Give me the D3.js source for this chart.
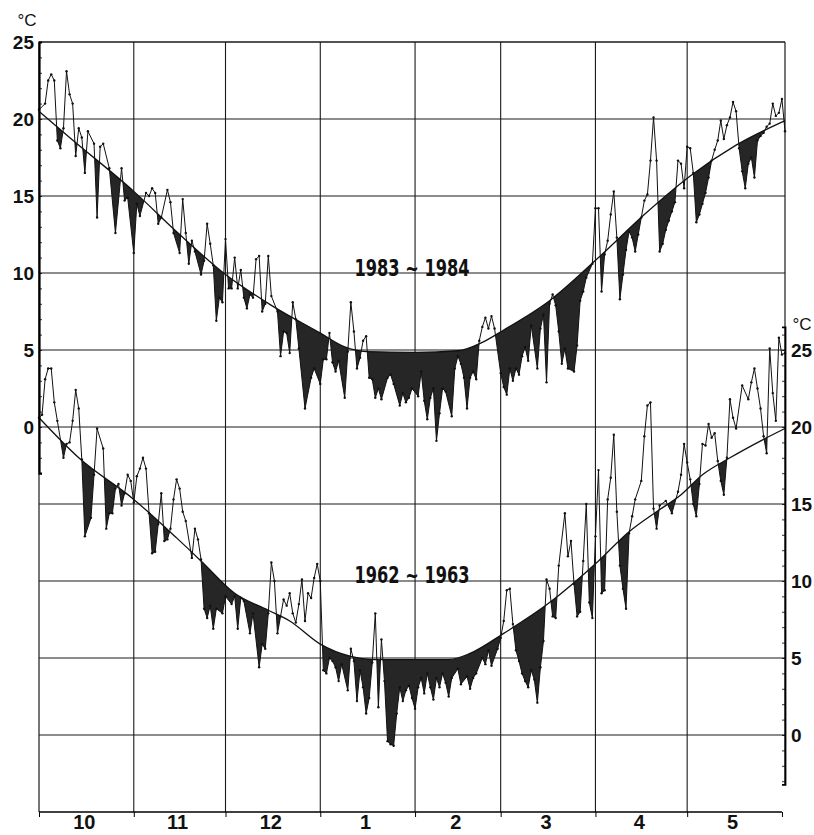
<!DOCTYPE html>
<html>
<head>
<meta charset="utf-8">
<script src="https://cdn.jsdelivr.net/npm/d3@7"></script>
<style>
  body { margin: 0; background: #fff; }
  text { fill: #111; }
</style>
</head>
<body>
<div id="chart"></div>
<script>
// months on the x axis (day 0 = 1 October)
const monthLabels = ["10", "11", "12", "1", "2", "3", "4", "5"];
const monthStarts = [0, 31, 61, 92, 123, 151, 182, 212, 243];
const tempTicks = [0, 5, 10, 15, 20, 25];

// 1983-1984 daily mean temperature, [day, °C] (left scale)
const obs1983 = [
  [0,20.6],[2,21.0],[3,22.5],[4,22.9],[5,22.5],[6,18.6],[7,18.1],[8,19.4],[9,23.1],[10,21.6],
  [11,21.0],[12,17.6],[13,19.4],[14,18.8],[15,16.5],[16,19.2],[18,18.4],[19,13.6],[20,18.2],[21,18.4],
  [23,16.8],[25,12.6],[27,16.8],[28,14.7],[29,14.9],[31,11.3],[32,14.5],[33,13.7],[35,15.2],[36,15.0],
  [37,15.5],[38,15.2],[39,13.2],[40,13.6],[42,15.4],[43,14.6],[44,12.6],[46,11.3],[47,14.8],[48,12.6],
  [49,10.6],[50,12.1],[51,11.4],[53,9.9],[54,10.8],[55,13.2],[56,11.9],[57,10.5],[58,6.9],[59,8.4],
  [60,8.1],[61,12.2],[62,9.0],[63,9.0],[64,11.0],[65,9.0],[66,10.2],[67,8.4],[68,7.7],[69,8.6],
  [70,8.4],[71,10.9],[72,11.1],[73,7.5],[74,8.0],[75,11.1],[76,8.5],[78,7.5],[79,4.6],[80,6.2],
  [81,6.1],[82,4.8],[83,8.1],[84,7.0],[85,5.1],[87,1.2],[89,3.2],[90,3.8],[92,2.8],[93,4.4],
  [94,4.4],[95,6.1],[96,4.2],[97,3.6],[98,4.3],[100,1.9],[101,4.9],[102,8.1],[103,6.2],[104,3.8],
  [105,4.5],[106,5.6],[107,5.9],[108,3.2],[109,3.1],[110,1.9],[111,2.5],[112,1.8],[114,3.2],[115,3.4],
  [116,2.8],[118,1.4],[119,2.2],[120,1.6],[121,1.9],[122,2.5],[124,2.0],[125,3.6],[126,1.7],[127,0.5],
  [128,1.9],[129,2.5],[130,-0.9],[131,0.9],[132,2.5],[133,2.3],[135,0.7],[136,3.8],[137,4.6],[138,4.1],
  [139,3.2],[140,1.2],[141,3.2],[142,3.6],[143,3.1],[144,5.6],[145,6.5],[146,7.1],[147,6.4],[148,7.2],
  [149,6.4],[151,3.5],[152,2.6],[153,2.1],[154,3.8],[155,3.0],[156,3.8],[157,3.4],[158,4.6],[159,5.2],
  [160,4.3],[161,6.6],[163,3.8],[164,6.4],[165,7.3],[166,2.9],[167,8.0],[168,8.6],[169,7.9],[170,6.2],
  [171,4.1],[172,5.1],[173,3.8],[175,3.6],[176,5.3],[177,8.2],[178,8.8],[179,9.7],[181,10.6],[182,14.2],
  [183,14.2],[184,8.8],[185,11.2],[186,12.1],[187,13.8],[188,15.3],[189,12.3],[190,8.3],[191,9.9],[192,11.5],
  [193,12.7],[194,12.3],[195,11.4],[196,12.5],[197,13.6],[198,14.7],[199,15.1],[200,17.3],[201,20.1],[202,17.3],
  [203,11.4],[204,11.9],[205,12.8],[206,13.4],[207,14.0],[208,14.6],[209,17.3],[210,17.1],[211,15.5],[212,18.2],
  [213,18.1],[214,16.5],[215,13.3],[216,13.8],[217,14.5],[218,15.2],[219,16.2],[220,17.3],[221,18.0],[222,18.6],
  [223,19.9],[224,18.7],[225,19.6],[226,20.1],[227,21.1],[228,20.5],[229,18.1],[230,16.6],[231,15.5],[232,17.1],
  [233,17.5],[234,16.2],[235,18.6],[236,18.9],[237,19.1],[238,19.5],[239,19.7],[240,21.0],[241,20.2],[242,20.4],
  [243,21.3],[244,19.2]
];

// 1983-1984 normal curve
const clim1983 = [
  [0,20.5],[10,18.8],[31,15.3],[46,12.5],[61,9.9],[76,7.9],[92,6.1],[100,5.2],[107,4.9],[123,4.85],
  [137,4.95],[145,5.5],[152,6.3],[167,8.2],[183,11.0],[198,13.8],[213,16.3],[228,18.3],[244,19.9]
];

// 1962-1963 daily mean temperature, [day, °C] (right scale)
const obs1962 = [
  [0,20.6],[1,20.8],[2,23.1],[3,23.8],[4,23.8],[5,21.6],[6,20.4],[8,18.0],[9,18.9],[10,19.0],
  [11,20.4],[12,22.4],[13,21.2],[14,17.9],[15,12.9],[17,14.1],[18,16.9],[19,19.9],[21,18.6],[22,13.4],
  [23,14.4],[24,14.4],[25,16.0],[26,16.3],[27,14.9],[28,15.7],[29,16.9],[30,16.5],[31,15.1],[32,16.8],
  [33,17.3],[34,18.0],[35,17.3],[36,14.4],[37,11.8],[38,11.9],[39,13.7],[40,15.7],[41,12.6],[42,12.7],
  [43,13.4],[44,15.3],[45,16.6],[46,16.0],[47,14.5],[48,13.9],[50,11.5],[51,13.4],[52,12.7],[53,11.4],
  [54,8.2],[55,7.6],[56,8.4],[57,6.9],[58,8.2],[60,7.9],[61,9.0],[63,8.5],[64,9.0],[65,6.9],
  [66,8.9],[67,8.7],[69,6.6],[70,7.9],[72,4.4],[73,5.9],[74,5.6],[75,7.9],[76,11.2],[77,10.0],
  [78,6.6],[79,7.7],[80,8.8],[81,8.4],[82,9.2],[83,7.9],[84,7.3],[85,8.5],[86,10.1],[87,7.4],
  [88,9.2],[89,8.9],[90,10.2],[91,11.1],[92,10.0],[93,4.2],[94,4.0],[95,5.0],[96,4.8],[97,4.4],
  [98,3.5],[99,4.6],[101,2.9],[102,5.6],[103,4.8],[104,2.2],[105,4.2],[106,3.1],[107,1.4],[108,2.4],
  [109,4.7],[110,7.9],[111,1.8],[112,6.2],[113,3.5],[114,-0.4],[115,-0.6],[116,-0.7],[117,1.4],[118,3.1],
  [119,2.2],[120,2.9],[121,3.2],[122,2.4],[123,1.7],[124,3.1],[125,3.7],[126,2.7],[127,4.0],[128,3.1],
  [129,2.3],[130,3.7],[131,3.1],[132,4.0],[133,3.4],[134,2.5],[135,3.7],[137,4.3],[138,3.3],[140,3.8],
  [141,3.0],[142,3.7],[143,4.0],[145,5.0],[146,4.6],[147,5.5],[148,4.5],[150,5.6],[151,6.3],[152,7.4],
  [153,9.4],[154,9.5],[155,7.2],[156,5.5],[157,4.8],[158,4.0],[159,3.5],[160,3.1],[161,4.2],[162,3.6],
  [163,2.1],[164,4.4],[165,6.1],[166,10.1],[167,9.5],[168,7.7],[169,7.6],[170,11.0],[172,14.4],[173,11.6],
  [174,12.6],[175,9.8],[176,7.7],[177,8.0],[178,11.3],[179,15.0],[180,8.6],[181,7.6],[182,12.9],[183,17.2],
  [184,9.2],[185,9.4],[186,15.3],[187,16.7],[188,19.5],[189,14.5],[190,11.0],[191,9.5],[192,8.2],[193,13.1],
  [194,14.2],[195,15.3],[197,16.5],[198,19.4],[199,21.4],[200,21.6],[201,14.7],[202,13.4],[203,14.9],[205,15.2],
  [207,14.4],[209,15.8],[210,16.9],[211,18.9],[212,17.7],[213,16.6],[214,15.0],[215,14.2],[216,16.3],[217,18.9],
  [218,18.8],[219,20.2],[220,19.3],[221,19.6],[222,17.8],[223,16.5],[224,15.6],[225,18.0],[226,21.8],[227,20.6],
  [228,19.9],[230,22.7],[232,21.8],[233,22.9],[234,23.8],[235,22.5],[236,21.2],[237,19.4],[238,18.3],[239,25.1],
  [240,22.2],[241,20.4],[242,25.8],[243,24.7],[244,24.8]
];

// 1962-1963 normal curve
const clim1962 = [
  [0,20.6],[13,18.0],[31,15.3],[45,12.8],[53,11.3],[64,9.2],[75,8.1],[82,7.4],[92,5.9],[102,5.1],
  [109,4.9],[134,4.9],[141,5.3],[152,6.6],[167,8.6],[183,11.3],[193,13.2],[202,14.5],[210,15.6],[217,16.9],
  [226,18.0],[237,19.2],[244,19.9]
];

const width = 814;
const height = 835;
const marginTop = 42;
const marginRight = 29;
const marginBottom = 23;
const marginLeft = 39;
const boldFont = "'DejaVu Sans', 'Liberation Sans', sans-serif";
const tickFont = "'Liberation Sans', Arial, sans-serif";

const x = d3.scaleLinear().domain([0, 244]).range([marginLeft, width - marginRight]);
// the upper series reads on the left scale, the lower one on the right scale (shifted 20 °C)
const yTop = d3.scaleLinear().domain([-25, 25]).range([height - marginBottom, marginTop]);
const yBot = d3.scaleLinear().domain([-5, 45]).range([height - marginBottom, marginTop]);

const svg = d3.create("svg")
  .attr("width", width)
  .attr("height", height)
  .attr("viewBox", [0, 0, width, height]);

d3.select("#chart").append(() => svg.node());

// grid
const grid = svg.append("g").attr("stroke", "#1a1a1a").attr("stroke-width", 1.1);
grid.selectAll()
  .data(d3.range(-20, 25, 5))
  .join("line")
  .attr("x1", marginLeft).attr("x2", width - marginRight)
  .attr("y1", d => yTop(d)).attr("y2", d => yTop(d));
grid.selectAll()
  .data(monthStarts.slice(1, -1))
  .join("line")
  .attr("x1", d => x(d)).attr("x2", d => x(d))
  .attr("y1", marginTop).attr("y2", height - marginBottom);
// frame
grid.append("line")
  .attr("x1", marginLeft).attr("x2", width - marginRight)
  .attr("y1", yTop(25)).attr("y2", yTop(25)).attr("stroke-width", 1.4);
grid.append("line")
  .attr("x1", marginLeft).attr("x2", marginLeft)
  .attr("y1", yTop(25)).attr("y2", yTop(-25)).attr("stroke-width", 1.2);
grid.append("line")
  .attr("x1", width - marginRight).attr("x2", width - marginRight)
  .attr("y1", yTop(25)).attr("y2", yBot(-3.2)).attr("stroke-width", 1.2);

// shading of days colder than normal + lines
function drawSeries(obs, clim, yS, id) {
  const clipArea = d3.area()
    .curve(d3.curveMonotoneX)
    .x(d => x(d[0]))
    .y0(height)
    .y1(d => yS(d[1]));
  svg.append("clipPath").attr("id", id)
    .append("path").attr("d", clipArea(clim));

  const fillArea = d3.area()
    .x(d => x(d[0]))
    .y0(0)
    .y1(d => yS(d[1]));
  svg.append("path")
    .attr("clip-path", `url(#${id})`)
    .attr("fill", "#262626")
    .attr("d", fillArea(obs));

  svg.append("path")
    .attr("fill", "none")
    .attr("stroke", "#111")
    .attr("stroke-width", 1.3)
    .attr("d", d3.line().curve(d3.curveMonotoneX).x(d => x(d[0])).y(d => yS(d[1]))(clim));

  svg.append("path")
    .attr("fill", "none")
    .attr("stroke", "#111")
    .attr("stroke-width", 1)
    .attr("stroke-linejoin", "round")
    .attr("d", d3.line().x(d => x(d[0])).y(d => yS(d[1]))(obs));

  svg.append("g")
    .attr("fill", "#111")
    .selectAll()
    .data(obs)
    .join("circle")
    .attr("cx", d => x(d[0]))
    .attr("cy", d => yS(d[1]))
    .attr("r", 1.2);
}

drawSeries(obs1983, clim1983, yTop, "clip1983");
drawSeries(obs1962, clim1962, yBot, "clip1962");

// left axis (1983-1984)
const leftScale = yTop.copy().domain([-3, 25]).range([yTop(-3), yTop(25)]);
svg.append("g")
  .attr("transform", `translate(${marginLeft},0)`)
  .call(d3.axisRight(leftScale).tickValues(d3.range(-3, 26)).tickSize(3).tickFormat(""))
  .call(g => g.select(".domain").attr("stroke-width", 2.2))
  .call(g => g.selectAll(".tick line").attr("stroke-width", 0.8));
svg.append("g")
  .attr("transform", `translate(${marginLeft},0)`)
  .call(d3.axisLeft(yTop).tickValues(tempTicks).tickSize(0).tickPadding(5))
  .call(g => g.select(".domain").remove())
  .call(g => g.selectAll("text")
    .attr("font-family", tickFont).attr("font-weight", "bold").attr("font-size", 19)
    .attr("fill", "#111"))
  .call(g => g.append("text")
    .attr("x", -12).attr("y", yTop(25) - 16)
    .attr("font-family", tickFont).attr("font-size", 17)
    .attr("text-anchor", "middle")
    .attr("fill", "#111")
    .text("°C"));

// right axis (1962-1963)
const rightScale = yBot.copy().domain([-3.2, 26.5]).range([yBot(-3.2), yBot(26.5)]);
svg.append("g")
  .attr("transform", `translate(${width - marginRight},0)`)
  .call(d3.axisLeft(rightScale).tickValues(d3.range(-3, 27)).tickSize(3).tickFormat(""))
  .call(g => g.select(".domain").attr("stroke-width", 1.8))
  .call(g => g.selectAll(".tick line").attr("stroke-width", 0.8));
svg.append("g")
  .attr("transform", `translate(${width - marginRight},0)`)
  .call(d3.axisRight(yBot).tickValues(tempTicks).tickSize(0).tickPadding(6))
  .call(g => g.select(".domain").remove())
  .call(g => g.selectAll("text")
    .attr("font-family", tickFont).attr("font-weight", "bold").attr("font-size", 19)
    .attr("fill", "#111"))
  .call(g => g.append("text")
    .attr("x", 17).attr("y", yBot(25) - 20)
    .attr("font-family", tickFont).attr("font-size", 17)
    .attr("text-anchor", "middle")
    .attr("fill", "#111")
    .text("°C"));

// month axis
svg.append("g")
  .attr("transform", `translate(0,${height - marginBottom})`)
  .call(d3.axisBottom(x).tickValues(monthStarts).tickSize(5).tickFormat(""))
  .call(g => g.select(".domain").attr("d", `M${x(0)},0H${x(243)}`).attr("stroke-width", 1.3));
svg.append("g")
  .selectAll()
  .data(monthLabels)
  .join("text")
  .attr("x", (d, i) => (x(monthStarts[i]) + x(monthStarts[i + 1])) / 2 - 2)
  .attr("y", height - 6)
  .attr("text-anchor", "middle")
  .attr("font-family", tickFont)
  .attr("font-weight", "bold")
  .attr("font-size", 20)
  .text(d => d);

// period labels
const periods = ["1983 ~ 1984", "1962 ~ 1963"];
svg.append("text")
  .attr("x", x(122)).attr("y", yTop(9.8))
  .attr("text-anchor", "middle")
  .attr("font-family", boldFont).attr("font-weight", "bold").attr("font-size", 23)
  .attr("textLength", 115).attr("lengthAdjust", "spacingAndGlyphs")
  .text(periods[0]);
svg.append("text")
  .attr("x", x(122)).attr("y", yBot(9.9))
  .attr("text-anchor", "middle")
  .attr("font-family", boldFont).attr("font-weight", "bold").attr("font-size", 23)
  .attr("textLength", 115).attr("lengthAdjust", "spacingAndGlyphs")
  .text(periods[1]);
</script>
</body>
</html>
